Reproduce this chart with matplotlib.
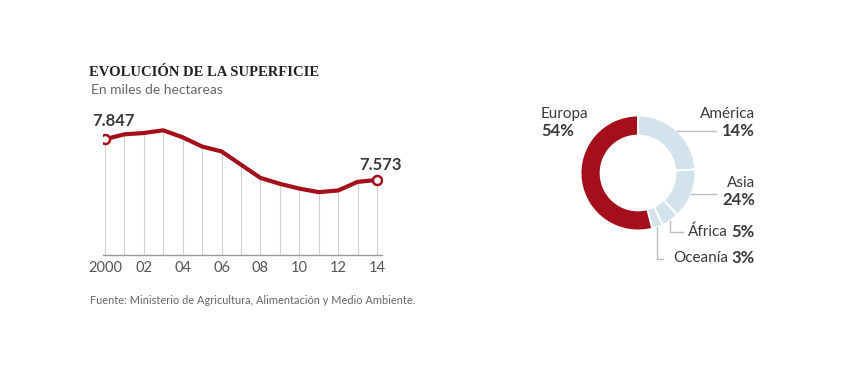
import matplotlib
matplotlib.use("Agg")
import matplotlib.pyplot as plt
import numpy as np
from matplotlib.lines import Line2D

# ---------------- data ----------------
years = [2000, 2001, 2002, 2003, 2004, 2005, 2006, 2007, 2008, 2009, 2010, 2011, 2012, 2013, 2014]
surface = [7847, 7880, 7889, 7907, 7860, 7798, 7765, 7676, 7587, 7547, 7515, 7491, 7502, 7560, 7573]
tick_years = [2000, 2002, 2004, 2006, 2008, 2010, 2012, 2014]
tick_labels = ["2000", "02", "04", "06", "08", "10", "12", "14"]
first_label = "7.847"
last_label = "7.573"

regions = ["América", "Asia", "África", "Oceanía", "Europa"]
slice_share = [24, 14, 5, 3, 54]          # arc sizes as drawn
label_pct = ["14%", "24%", "5%", "3%", "54%"]  # printed percentages

title = "EVOLUCIÓN DE LA SUPERFICIE"
subtitle = "En miles de hectareas"
source = "Fuente: Ministerio de Agricultura, Alimentación y Medio Ambiente."

# ---------------- style ----------------
W, H = 846, 380
RED = "#A50F1C"
BLUE = "#D2E3EC"
TXT = "#3a3a3a"
GRAY = "#666666"
SANS = ["Lato", "DejaVu Sans"]
plt.rcParams["font.family"] = SANS

fig = plt.figure(figsize=(W / 100, H / 100), dpi=100)
fig.patch.set_facecolor("white")


def P(x, y):
    return (x / W, 1 - y / H)


# ---------------- line chart ----------------
x0, x1 = 103, 382   # axes pixel extents
y_top, y_base = 100, 255
ax = fig.add_axes([x0 / W, 1 - y_base / H, (x1 - x0) / W, (y_base - y_top) / H])
ax.set_xlim(1999.9, 2014.26)
ybot, ytop = 7068, 8111
ax.set_ylim(ybot, ytop)
for s in ax.spines.values():
    s.set_visible(False)
ax.set_yticks([])
ax.vlines(years, ybot, surface, color="#d0d0d0", lw=0.8, zorder=1)
ax.axhline(ybot, color="#9a9a9a", lw=1.0, zorder=2, clip_on=False)
ax.plot(years, surface, color=RED, lw=3.0, solid_capstyle="round",
        solid_joinstyle="round", zorder=3)
ax.plot([years[0], years[-1]], [surface[0], surface[-1]], "o", ms=6.5,
        mfc="white", mec=RED, mew=1.8, zorder=4)
ax.set_xticks(tick_years)
ax.set_xticklabels(tick_labels, fontsize=10.5, color="#555555")
ax.tick_params(axis="x", length=0, pad=4)
ax.annotate(first_label, (years[0], surface[0]), xytext=(-9, 13),
            textcoords="offset points", ha="left", va="center",
            fontsize=12, fontweight="bold", color=TXT)
ax.annotate(last_label, (years[-1], surface[-1]), xytext=(18, 11),
            textcoords="offset points", ha="right", va="center",
            fontsize=12, fontweight="bold", color=TXT)

fig.text(*P(89, 72), title, fontsize=10.5, fontweight="bold",
         family=["Liberation Serif", "DejaVu Serif"],
         color="#222222", ha="left", va="center")
fig.text(*P(91, 90), subtitle, fontsize=10, color=GRAY, ha="left", va="center")
fig.text(*P(90, 301), source, fontsize=7.9, color=GRAY, ha="left", va="center")

# ---------------- donut ----------------
cx, cy, R = 638, 173, 57.5
axp = fig.add_axes([(cx - R) / W, 1 - (cy + R) / H, 2 * R / W, 2 * R / H])
colors = [BLUE, BLUE, BLUE, BLUE, RED]
axp.pie(slice_share, colors=colors, startangle=90, counterclock=False,
        radius=1, wedgeprops=dict(width=0.35, edgecolor="white", linewidth=1.4))
axp.set_xlim(-1, 1)
axp.set_ylim(-1, 1)
axp.set_aspect("equal")
axp.axis("off")

# mid-angles of each wedge
cum = np.cumsum([0] + slice_share)
mids = {}
for i, name in enumerate(regions):
    a = 90 - 360 * (cum[i] + cum[i + 1]) / 2 / sum(slice_share)
    mids[name] = (cx + R * np.cos(np.radians(a)), cy - R * np.sin(np.radians(a)))

LC = "#bdbdbd"


def line(pts):
    xs = [p[0] / W for p in pts]
    ys = [1 - p[1] / H for p in pts]
    fig.add_artist(Line2D(xs, ys, color=LC, lw=1.0))


# leaders
ax_, ay_ = mids["América"]
line([(ax_, ay_), (716, ay_)])
sx, sy = mids["Asia"]
line([(sx, sy), (716, sy)])
fx, fy = mids["África"]
line([(fx, fy), (fx, 232), (683, 232)])
ox, oy = mids["Oceanía"]
line([(ox, oy), (ox, 259), (663, 259)])

FS = 11
FB = 12
RX = 755
fig.text(*P(541, 114), regions[4], fontsize=FS, color=TXT, ha="left", va="center")
fig.text(*P(541, 131), label_pct[4], fontsize=FB, fontweight="bold", color=TXT,
         ha="left", va="center")
fig.text(*P(RX, 114), regions[0], fontsize=FS, color=TXT, ha="right", va="center")
fig.text(*P(RX, 131), label_pct[0], fontsize=FB, fontweight="bold", color=TXT,
         ha="right", va="center")
fig.text(*P(RX, 183), regions[1], fontsize=FS, color=TXT, ha="right", va="center")
fig.text(*P(RX, 200), label_pct[1], fontsize=FB, fontweight="bold", color=TXT,
         ha="right", va="center")

renderer = fig.canvas.get_renderer()
for name, pct, y in [(regions[2], label_pct[2], 232), (regions[3], label_pct[3], 258)]:
    tb = fig.text(*P(RX, y), pct, fontsize=FB, fontweight="bold", color=TXT,
                  ha="right", va="center")
    bb = tb.get_window_extent(renderer)
    fig.text(bb.x0 - 4, bb.y0 + bb.height / 2, name, fontsize=FS, color=TXT,
             ha="right", va="center", transform=None)

fig.savefig("out.png", dpi=100, facecolor="white")
